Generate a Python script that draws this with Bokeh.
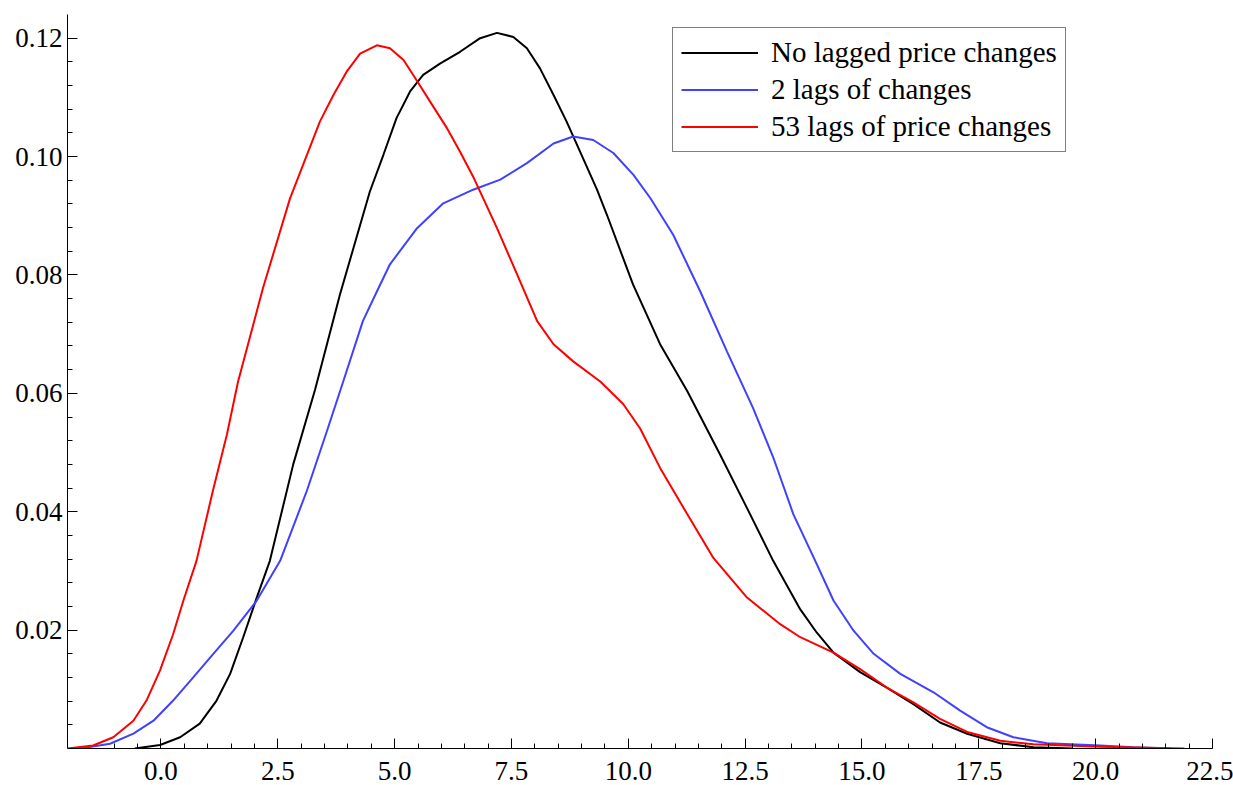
from bokeh.plotting import figure
from bokeh.models import FixedTicker, Range1d, Legend, LegendItem
from bokeh.embed import file_html
from bokeh.resources import INLINE

# ---- data ----
series_names = ["No lagged price changes", "2 lags of changes", "53 lags of price changes"]

x_none = [-0.56, -0.02, 0.41, 0.83, 1.19, 1.48, 1.76, 2.05, 2.33, 2.83, 3.3, 3.83, 4.47, 4.76,
          5.04, 5.33, 5.61, 5.97, 6.4, 6.83, 7.19, 7.54, 7.83, 8.11, 8.4, 8.68, 8.97, 9.33,
          9.55, 10.1, 10.68, 11.26, 11.96, 12.54, 13.1, 13.68, 14.03, 14.39, 14.96, 15.53,
          16.1, 16.67, 17.25, 17.96, 18.67, 19.5]
y_none = [0.0, 0.0006, 0.0019, 0.0042, 0.0081, 0.0126, 0.0188, 0.0255, 0.0317, 0.048, 0.0607,
          0.0767, 0.0941, 0.1003, 0.1065, 0.111, 0.1138, 0.1157, 0.1177, 0.12, 0.1209, 0.1202,
          0.1183, 0.1149, 0.1104, 0.1059, 0.1008, 0.0944, 0.09, 0.0784, 0.0683, 0.0604, 0.0497,
          0.0406, 0.0317, 0.0235, 0.0196, 0.0162, 0.0129, 0.0103, 0.0075, 0.0044, 0.0025,
          0.0009, 0.0002, 0.0]

x_two = [-1.73, -1.09, -0.59, -0.16, 0.26, 0.69, 1.12, 1.55, 2.05, 2.55, 3.12, 3.55, 3.9, 4.32,
         4.62, 4.9, 5.48, 6.04, 6.68, 7.26, 7.83, 8.4, 8.82, 9.25, 9.68, 10.11, 10.47, 10.96,
         11.54, 12.11, 12.67, 13.1, 13.53, 14.0, 14.39, 14.82, 15.25, 15.82, 16.53, 17.1,
         17.67, 18.24, 18.96, 20.1, 20.8, 21.6]
y_two = [0.0, 0.0008, 0.0025, 0.0047, 0.0081, 0.012, 0.016, 0.0199, 0.025, 0.0317, 0.0435,
         0.0536, 0.062, 0.0722, 0.0772, 0.0818, 0.0879, 0.0921, 0.0944, 0.0961, 0.0989, 0.1022,
         0.1034, 0.1028, 0.1006, 0.0969, 0.093, 0.0868, 0.0772, 0.0671, 0.0575, 0.0492, 0.0396,
         0.0317, 0.025, 0.0199, 0.016, 0.0126, 0.0095, 0.0064, 0.0036, 0.0019, 0.0009, 0.0005,
         0.0002, 0.0]

x_53 = [-2.0, -1.45, -1.02, -0.59, -0.31, -0.02, 0.26, 0.48, 0.76, 1.11, 1.41, 1.65, 2.18, 2.76,
        3.4, 3.69, 3.97, 4.26, 4.62, 4.9, 5.19, 5.47, 5.83, 6.12, 6.4, 6.68, 7.19, 7.62, 8.05,
        8.4, 8.82, 9.4, 9.89, 10.25, 10.68, 11.26, 11.82, 12.54, 13.25, 13.68, 14.39, 14.96,
        15.53, 16.1, 16.67, 17.25, 17.96, 18.67, 20.1, 21.9]
y_53 = [0.0, 0.0005, 0.0019, 0.0047, 0.0081, 0.0132, 0.0193, 0.025, 0.0317, 0.0435, 0.053,
        0.062, 0.0777, 0.0929, 0.1059, 0.1104, 0.1143, 0.1174, 0.1188, 0.1183, 0.1163, 0.1129,
        0.1084, 0.1048, 0.1008, 0.0966, 0.0879, 0.0801, 0.0722, 0.0683, 0.0654, 0.062, 0.0582,
        0.0541, 0.0474, 0.0396, 0.0322, 0.0255, 0.021, 0.0188, 0.0162, 0.0134, 0.0103,
        0.0078, 0.005, 0.0028, 0.0013, 0.0007, 0.0003, 0.0]

x_ticks = [0.0, 2.5, 5.0, 7.5, 10.0, 12.5, 15.0, 17.5, 20.0, 22.5]
x_tick_labels = ["0.0", "2.5", "5.0", "7.5", "10.0", "12.5", "15.0", "17.5", "20.0", "22.5"]
y_ticks = [0.02, 0.04, 0.06, 0.08, 0.10, 0.12]
y_tick_labels = ["0.02", "0.04", "0.06", "0.08", "0.10", "0.12"]

# ---- figure ----
FONT = "Liberation Serif"
p = figure(width=1233, height=785, output_backend="svg", toolbar_location=None,
           x_range=Range1d(-2.0, 22.5), y_range=Range1d(0.0, 0.124),
           min_border_left=67, min_border_right=21, min_border_top=14, min_border_bottom=37)
p.outline_line_color = None
p.grid.visible = False
p.background_fill_color = "white"

r1 = p.line(x_none, y_none, line_color="black", line_width=2)
r2 = p.line(x_two, y_two, line_color="#4040ff", line_width=2)
r3 = p.line(x_53, y_53, line_color="#ff0000", line_width=2)

x_minor = [v * 0.5 for v in range(-2, 46)]
y_minor = [v * 0.004 for v in range(1, 31)]
p.xaxis.ticker = FixedTicker(ticks=x_ticks, minor_ticks=x_minor)
p.yaxis.ticker = FixedTicker(ticks=y_ticks, minor_ticks=y_minor)
p.xaxis.major_label_overrides = dict(zip(x_ticks, x_tick_labels))
p.yaxis.major_label_overrides = dict(zip(y_ticks, y_tick_labels))

for ax in (p.xaxis, p.yaxis):
    ax.major_tick_in = 10
    ax.major_tick_out = 0
    ax.minor_tick_in = 5
    ax.minor_tick_out = 0
    ax.axis_line_color = "black"
    ax.major_tick_line_color = "black"
    ax.minor_tick_line_color = "black"
    ax.major_label_text_font = FONT
    ax.major_label_text_font_size = "27px"
    ax.major_label_text_color = "black"
p.yaxis.major_label_standoff = 5
p.xaxis.major_label_standoff = 13

legend = Legend(items=[LegendItem(label=series_names[0], renderers=[r1]),
                       LegendItem(label=series_names[1], renderers=[r2]),
                       LegendItem(label=series_names[2], renderers=[r3])],
                location=(605, 596), orientation="vertical")
legend.border_line_color = "black"
legend.border_line_width = 1
legend.background_fill_color = "white"
legend.background_fill_alpha = 1.0
legend.label_text_font = FONT
legend.label_text_font_size = "29px"
legend.label_text_color = "black"
legend.glyph_width = 77
legend.glyph_height = 29
legend.label_height = 29
legend.label_standoff = 13
legend.padding = 8
legend.spacing = 4
legend.margin = 0
p.add_layout(legend)

open("out.html", "w").write(file_html(p, INLINE))
